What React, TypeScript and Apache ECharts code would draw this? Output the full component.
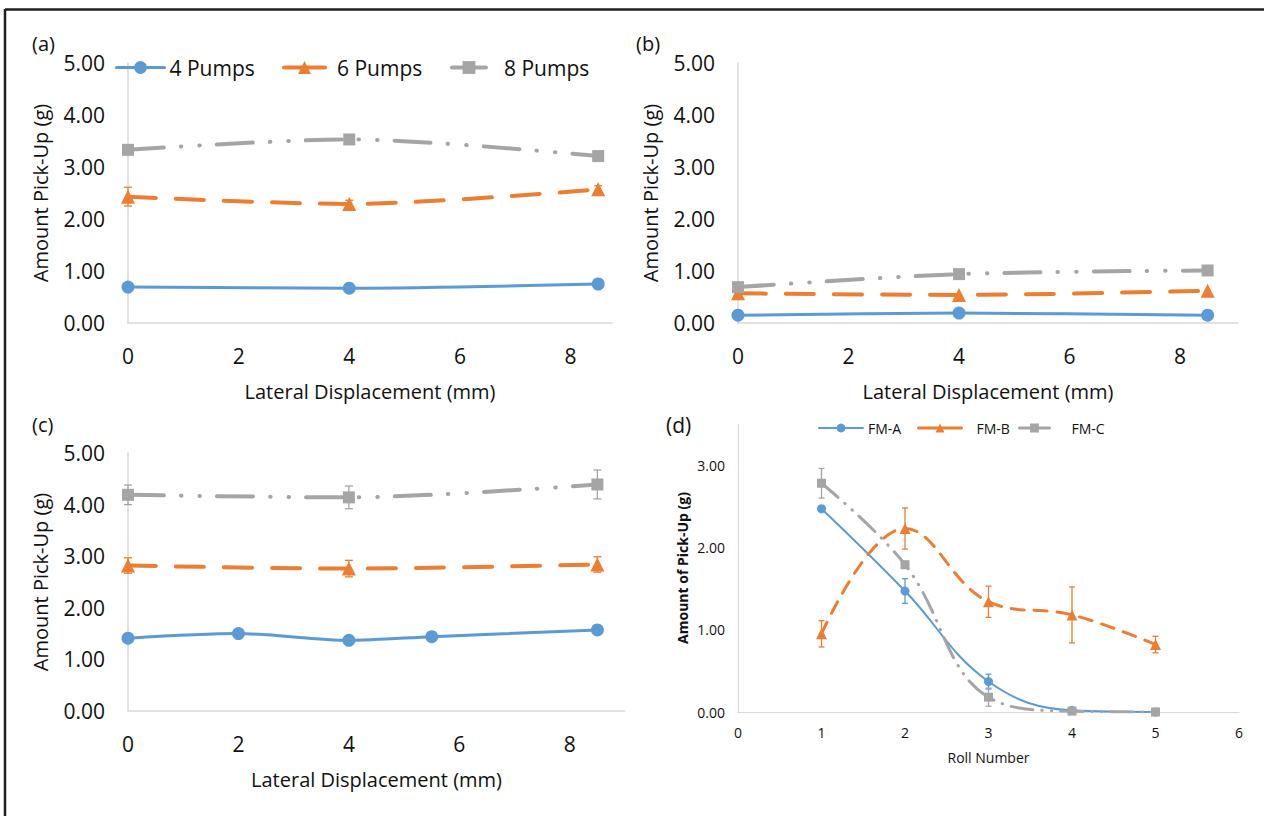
import React, { useEffect, useRef } from "react";
import * as echarts from "echarts";

// ---- Data ----
const dispA = [0, 4, 8.5];
const a4Pumps = [0.69, 0.67, 0.75];
const a6Pumps = [2.43, 2.29, 2.57];
const a6Err = [0.18, 0.07, 0.07];
const a8Pumps = [3.33, 3.53, 3.21];

const dispB = [0, 4, 8.5];
const b4Pumps = [0.15, 0.19, 0.15];
const b6Pumps = [0.57, 0.54, 0.62];
const b8Pumps = [0.69, 0.94, 1.01];

const dispC4 = [0, 2, 4, 5.5, 8.5];
const c4Pumps = [1.41, 1.5, 1.37, 1.44, 1.57];
const dispC = [0, 4, 8.5];
const c6Pumps = [2.82, 2.76, 2.84];
const c6Err = [0.15, 0.16, 0.15];
const c8Pumps = [4.19, 4.14, 4.39];
const c8Err = [0.19, 0.22, 0.28];

const rolls = [1, 2, 3, 4, 5];
const fmA = [2.47, 1.47, 0.37, 0.02, 0.0];
const fmAErr = [0.03, 0.15, 0.09, 0.02, 0];
const fmB = [0.95, 2.23, 1.34, 1.18, 0.82];
const fmBErr = [0.16, 0.25, 0.19, 0.34, 0.1];
const fmC = [2.78, 1.79, 0.18, 0.01, 0.0];
const fmCErr = [0.18, 0.04, 0.11, 0.02, 0];

const pumpNames = ["4 Pumps", "6 Pumps", "8 Pumps"];
const fmNames = ["FM-A", "FM-B", "FM-C"];
const yTicksABC = [0, 1, 2, 3, 4, 5];
const xTitle = "Lateral Displacement (mm)";
const yTitle = "Amount Pick-Up (g)";
const dXTitle = "Roll Number";
const dYTitle = "Amount of Pick-Up (g)";

// ---- Styles ----
const FONT = "'Open Sans', sans-serif";
const BLUE = "#5B9BD5";
const ORANGE = "#ED7D31";
const GRAY = "#A5A5A5";
const AXIS = "#D9D9D9";
const TXT = "#111111";

function pairs(xs: number[], ys: number[]) {
  return xs.map((x, i) => [x, ys[i]]);
}

function lineSeries(
  name: string,
  idx: number,
  xs: number[],
  ys: number[],
  color: string,
  symbol: string,
  symbolSize: number,
  width: number,
  dash: any,
  smooth: number
) {
  return {
    type: "line",
    name,
    xAxisIndex: idx,
    yAxisIndex: idx,
    data: pairs(xs, ys),
    smooth,
    symbol,
    symbolSize,
    showSymbol: true,
    z: 3,
    lineStyle: { color, width, type: dash, cap: "round", join: "round" },
    itemStyle: { color },
  };
}

function errSeries(idx: number, xs: number[], ys: number[], errs: number[], color: string, cap: number) {
  return {
    type: "custom",
    xAxisIndex: idx,
    yAxisIndex: idx,
    z: 2,
    silent: true,
    data: xs.map((x, i) => [x, ys[i], errs[i]]),
    encode: { x: 0, y: 1 },
    renderItem: (params: any, api: any) => {
      const x = api.value(0);
      const y = api.value(1);
      const e = api.value(2);
      if (!e) return null;
      const p1 = api.coord([x, y + e]);
      const p2 = api.coord([x, y - e]);
      const st = { stroke: color, lineWidth: 1.3 };
      return {
        type: "group",
        children: [
          { type: "line", shape: { x1: p1[0], y1: p1[1], x2: p2[0], y2: p2[1] }, style: st },
          { type: "line", shape: { x1: p1[0] - cap, y1: p1[1], x2: p1[0] + cap, y2: p1[1] }, style: st },
          { type: "line", shape: { x1: p2[0] - cap, y1: p2[1], x2: p2[0] + cap, y2: p2[1] }, style: st },
        ],
      };
    },
  };
}

const DASH_BIG = [28, 20];
const DOT_BIG = [36, 17, 0.5, 18, 0.5, 17];
const DASH_SM = [13, 10];
const DOT_SM = [22, 9, 0.5, 9, 0.5, 9];

function bigXAxis(idx: number, max: number) {
  return {
    type: "value",
    gridIndex: idx,
    min: 0,
    max,
    interval: 2,
    axisLine: { show: true, lineStyle: { color: AXIS, width: 1.5 } },
    axisTick: { show: false },
    splitLine: { show: false },
    axisLabel: {
      fontFamily: FONT,
      fontSize: 21,
      color: TXT,
      margin: 22,
      showMaxLabel: false,
      formatter: (v: number) => (v % 2 === 0 ? String(v) : ""),
    },
    name: xTitle,
    nameLocation: "middle",
    nameGap: 58,
    nameTextStyle: { fontFamily: FONT, fontSize: 20, color: TXT },
  };
}

function bigYAxis(idx: number) {
  return {
    type: "value",
    gridIndex: idx,
    min: yTicksABC[0],
    max: yTicksABC[yTicksABC.length - 1],
    interval: 1,
    axisLine: { show: true, lineStyle: { color: AXIS, width: 1.5 } },
    axisTick: { show: false },
    splitLine: { show: false },
    axisLabel: {
      fontFamily: FONT,
      fontSize: 21,
      color: TXT,
      margin: 23,
      formatter: (v: number) => v.toFixed(2),
    },
    name: yTitle,
    nameLocation: "middle",
    nameGap: 78,
    nameTextStyle: { fontFamily: FONT, fontSize: 20, color: TXT },
  };
}

function legendItem(
  name: string,
  left: number,
  top: number,
  w: number,
  pad: number,
  fs: number,
  ih: number,
  lw: number
) {
  return {
    data: [name],
    left,
    top,
    padding: 0,
    itemWidth: w,
    itemHeight: ih,
    selectedMode: false,
    lineStyle: { type: "solid", width: lw },
    textStyle: { fontFamily: FONT, fontSize: fs, color: TXT, padding: [0, 0, 0, pad] },
  };
}

export default function App() {
  const ref = useRef<HTMLDivElement>(null);
  useEffect(() => {
    if (!ref.current) return;
    const chart = echarts.init(ref.current, undefined, { renderer: "svg" });
    const option: any = {
      animation: false,
      backgroundColor: "#ffffff",
      textStyle: { fontFamily: FONT },
      grid: [
        { left: 128, top: 63, width: 484, height: 260 },
        { left: 738, top: 63, width: 500, height: 260 },
        { left: 128, top: 453, width: 497, height: 258 },
        { left: 738, top: 424, width: 501, height: 288 },
      ],
      xAxis: [
        bigXAxis(0, 8.75),
        bigXAxis(1, 9.05),
        bigXAxis(2, 9.0),
        {
          type: "value",
          gridIndex: 3,
          min: 0,
          max: 6,
          interval: 1,
          axisLine: { show: true, lineStyle: { color: AXIS, width: 1.2 } },
          axisTick: { show: false },
          splitLine: { show: false },
          axisLabel: { fontFamily: FONT, fontSize: 14, color: TXT, margin: 13 },
          name: dXTitle,
          nameLocation: "middle",
          nameGap: 38,
          nameTextStyle: { fontFamily: FONT, fontSize: 14, color: TXT },
        },
      ],
      yAxis: [
        bigYAxis(0),
        bigYAxis(1),
        bigYAxis(2),
        {
          type: "value",
          gridIndex: 3,
          min: 0,
          max: 3.5,
          interval: 1,
          axisLine: { show: true, lineStyle: { color: AXIS, width: 1.2 } },
          axisTick: { show: false },
          splitLine: { show: false },
          axisLabel: {
            fontFamily: FONT,
            fontSize: 14,
            color: TXT,
            margin: 13,
            showMaxLabel: false,
            formatter: (v: number) => (Number.isInteger(v) ? v.toFixed(2) : ""),
          },
          name: dYTitle,
          nameLocation: "middle",
          nameGap: 49,
          nameTextStyle: { fontFamily: FONT, fontSize: 14, fontWeight: "bold", color: TXT },
        },
      ],
      legend: [
        legendItem(pumpNames[0], 115, 57, 48, 0, 21, 16, 3),
        legendItem(pumpNames[1], 282, 57, 41, 7, 21, 16, 4),
        legendItem(pumpNames[2], 450, 57, 34, 13, 21, 16, 4),
        legendItem(fmNames[0], 818, 421, 44, 0, 14, 11, 2),
        legendItem(fmNames[1], 917, 421, 43, 10, 14, 11, 3),
        legendItem(fmNames[2], 1018, 421, 30, 17, 14, 11, 3),
      ],
      graphic: [
        { type: "line", shape: { x1: 5, y1: 9.5, x2: 1264, y2: 9.5 }, style: { stroke: "#231f20", lineWidth: 2.5 } },
        { type: "line", shape: { x1: 5, y1: 9, x2: 5, y2: 816 }, style: { stroke: "#231f20", lineWidth: 2.5 } },
        { type: "text", x: 32, y: 43, style: { text: "(a)", fontFamily: FONT, fontSize: 20, fill: TXT, verticalAlign: "middle" } },
        { type: "text", x: 636, y: 43, style: { text: "(b)", fontFamily: FONT, fontSize: 20, fill: TXT, verticalAlign: "middle" } },
        { type: "text", x: 32, y: 424, style: { text: "(c)", fontFamily: FONT, fontSize: 20, fill: TXT, verticalAlign: "middle" } },
        { type: "text", x: 666, y: 425, style: { text: "(d)", fontFamily: FONT, fontSize: 21, fill: TXT, verticalAlign: "middle" } },
      ],
      series: [
        // (a)
        errSeries(0, dispA, a6Pumps, a6Err, ORANGE, 4),
        lineSeries(pumpNames[0], 0, dispA, a4Pumps, BLUE, "circle", 13, 3, "solid", 0.3),
        lineSeries(pumpNames[1], 0, dispA, a6Pumps, ORANGE, "triangle", 14, 4, DASH_BIG, 0.3),
        lineSeries(pumpNames[2], 0, dispA, a8Pumps, GRAY, "rect", 12, 4, DOT_BIG, 0.3),
        // (b)
        lineSeries(pumpNames[0], 1, dispB, b4Pumps, BLUE, "circle", 13, 3, "solid", 0.3),
        lineSeries(pumpNames[1], 1, dispB, b6Pumps, ORANGE, "triangle", 14, 4, DASH_BIG, 0.3),
        lineSeries(pumpNames[2], 1, dispB, b8Pumps, GRAY, "rect", 12, 4, DOT_BIG, 0.3),
        // (c)
        errSeries(2, dispC, c6Pumps, c6Err, ORANGE, 4),
        errSeries(2, dispC, c8Pumps, c8Err, GRAY, 4),
        lineSeries(pumpNames[0], 2, dispC4, c4Pumps, BLUE, "circle", 13, 3, "solid", 0.3),
        lineSeries(pumpNames[1], 2, dispC, c6Pumps, ORANGE, "triangle", 14, 4, DASH_BIG, 0.3),
        lineSeries(pumpNames[2], 2, dispC, c8Pumps, GRAY, "rect", 12, 4, DOT_BIG, 0.3),
        // (d)
        errSeries(3, rolls, fmA, fmAErr, BLUE, 3),
        errSeries(3, rolls, fmB, fmBErr, ORANGE, 3),
        errSeries(3, rolls, fmC, fmCErr, GRAY, 3),
        lineSeries(fmNames[0], 3, rolls, fmA, BLUE, "circle", 9, 2, "solid", 0.4),
        lineSeries(fmNames[1], 3, rolls, fmB, ORANGE, "triangle", 11, 3, DASH_SM, 0.4),
        lineSeries(fmNames[2], 3, rolls, fmC, GRAY, "rect", 9, 3, DOT_SM, 0.4),
      ],
    };
    chart.setOption(option);
    return () => chart.dispose();
  }, []);
  return (
    <div
      ref={ref}
      style={{ position: "absolute", left: 0, top: 0, width: 1264, height: 816, background: "#fff" }}
    />
  );
}
